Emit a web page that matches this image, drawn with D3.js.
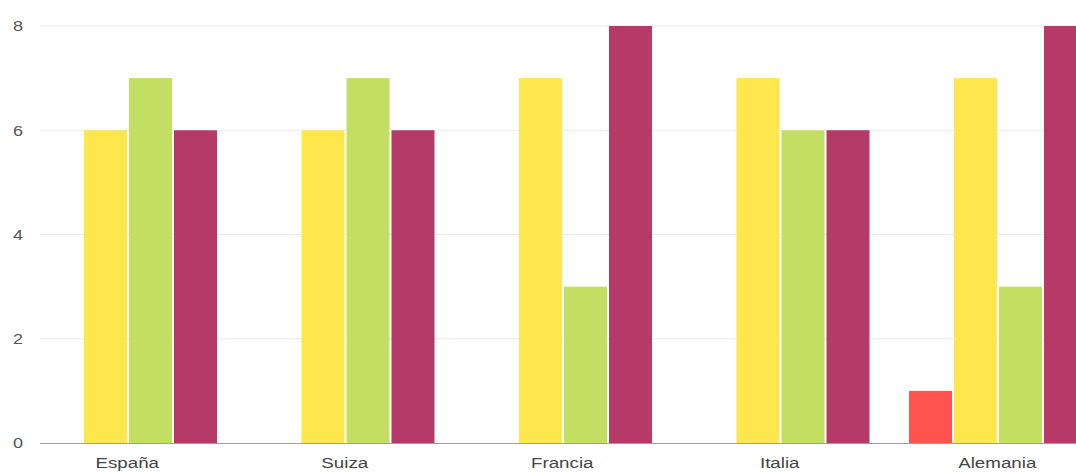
<!DOCTYPE html>
<html><head><meta charset="utf-8">
<script src="https://cdn.jsdelivr.net/npm/d3@7"></script>
<style>body{margin:0;background:#fff}svg{display:block}</style>
</head><body>
<svg id="c" width="1076" height="472"></svg>
<script>
const categories = ["España","Suiza","Francia","Italia","Alemania"];
const seriesNames = ["A","B","C","D"];
const seriesColors = ["#ff5350","#fde74c","#c3df63","#b53a68"];
const valuesA = [0,0,0,0,1];
const valuesB = [6,6,7,7,7];
const valuesC = [7,7,3,6,3];
const valuesD = [6,6,8,6,8];
const yTicks = [0,2,4,6,8];

const series = [valuesA,valuesB,valuesC,valuesD];
const svg = d3.select("#c");
const y = d3.scaleLinear().domain([0,8]).range([443,26]);
const x0 = d3.scaleBand().domain(categories).range([18.5,1106]);
const x1 = d3.scaleBand().domain(seriesNames).range([20.5,198.5]).paddingInner(2/45);
const font = "Liberation Sans, Arial, sans-serif";

// gridlines
svg.append("g").selectAll("line").data(yTicks.filter(d=>d>0)).join("line")
  .attr("x1",40).attr("x2",1076).attr("y1",d=>y(d)).attr("y2",d=>y(d))
  .attr("stroke","#ebebeb").attr("stroke-width",1);

// bars
const g = svg.append("g").selectAll("g").data(categories).join("g")
  .attr("transform",d=>`translate(${x0(d)},0)`);
g.selectAll("rect").data((c,i)=>seriesNames.map((s,j)=>({s,v:series[j][i],j}))).join("rect")
  .attr("x",d=>x1(d.s)).attr("width",x1.bandwidth())
  .attr("y",d=>y(d.v)).attr("height",d=>y(0)-y(d.v))
  .attr("fill",d=>seriesColors[d.j]);

// x axis line
svg.append("line").attr("x1",40).attr("x2",1076).attr("y1",y(0)+0.5).attr("y2",y(0)+0.5)
  .attr("stroke","#9e9e9e").attr("stroke-width",1);

// y tick labels
svg.append("g").selectAll("text").data(yTicks).join("text")
  .attr("transform",d=>`translate(23,${y(d)}) scale(1.2,1)`)
  .attr("dy","0.36em").attr("text-anchor","end")
  .attr("font-family",font).attr("font-size",15)
  .attr("fill","#555").text(d=>d);

// category labels
svg.append("g").selectAll("text").data(categories).join("text")
  .attr("transform",d=>`translate(${x0(d)+x0.bandwidth()/2},468) scale(1.25,1)`)
  .attr("text-anchor","middle")
  .attr("font-family",font).attr("font-size",15)
  .attr("fill","#444").text(d=>d);
</script>
</body></html>
